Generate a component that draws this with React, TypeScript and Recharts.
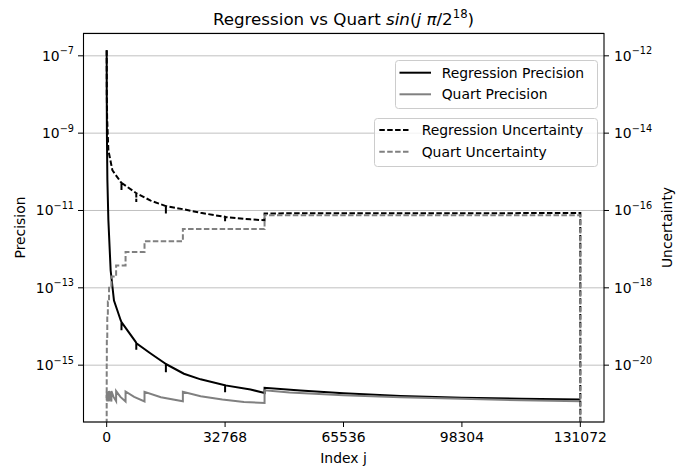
import { LineChart, Line, XAxis, YAxis, CartesianGrid } from "recharts"

const FONT = "DejaVu Sans, sans-serif"

// axis ticks
const xTicks = [0, 32768, 65536, 98304, 131072]
const precTicks = [1e-15, 1e-13, 1e-11, 1e-9, 1e-7]
const uncTicks = [1e-20, 1e-18, 1e-16, 1e-14, 1e-12]

// Regression Precision (left axis)
const regPrecJ = [0, 20, 60, 190, 470, 1100, 2020, 2960, 3870, 4095, 4096, 4097, 8020, 8191, 8192, 8193, 12166, 16383, 16384, 16385, 21370, 25990, 32767, 32768, 32769, 39800, 43690, 43691, 53600, 65536, 81300, 98304, 114688, 131072]
const regPrecV = [1.4e-7, 1e-8, 1e-9, 6.3e-11, 5.6e-12, 2.8e-13, 4.7e-14, 2.6e-14, 1.45e-14, 1.3e-14, 8e-15, 1.3e-14, 4e-15, 3.7e-15, 2.5e-15, 3.7e-15, 2e-15, 1.07e-15, 6.6e-16, 1.07e-15, 6e-16, 4.3e-16, 3e-16, 2e-16, 3e-16, 2.35e-16, 1.9e-16, 2.6e-16, 2.2e-16, 1.88e-16, 1.6e-16, 1.43e-16, 1.35e-16, 1.3e-16]

// Quart Precision (left axis)
const quartPrecJ = [0, 40, 160, 161, 326, 327, 652, 653, 1304, 1305, 1900, 2610, 2611, 3800, 5223, 5224, 7600, 10469, 10470, 15000, 21084, 21085, 26000, 32000, 38000, 43690, 43691, 50600, 65536, 81300, 98304, 114688, 131072]
const quartPrecV = [1.41e-16, 2.09e-16, 1.15e-16, 2e-16, 1.17e-16, 2.09e-16, 1.15e-16, 2.14e-16, 1.15e-16, 2.14e-16, 1.51e-16, 1.17e-16, 2.14e-16, 1.51e-16, 1.15e-16, 2.09e-16, 1.51e-16, 1.15e-16, 2.04e-16, 1.48e-16, 1.17e-16, 2.04e-16, 1.58e-16, 1.29e-16, 1.12e-16, 1.05e-16, 2.24e-16, 1.95e-16, 1.66e-16, 1.48e-16, 1.35e-16, 1.24e-16, 1.17e-16]

// Regression Uncertainty (right axis)
const regUncJ = [0, 30, 120, 280, 470, 1576, 3800, 4095, 4096, 4097, 8191, 8192, 8193, 12166, 16383, 16384, 16385, 21370, 25990, 32767, 32768, 32769, 39800, 43690, 43691, 65536, 98304, 131071, 131072]
const regUncV = [1.4e-12, 1e-13, 2.5e-14, 1e-14, 3.6e-15, 1.1e-15, 5.6e-16, 5.2e-16, 3.4e-16, 5.2e-16, 2.8e-16, 1.66e-16, 2.8e-16, 1.8e-16, 1.3e-16, 8.3e-17, 1.3e-16, 1.07e-16, 8.7e-17, 6.8e-17, 5.1e-17, 6.8e-17, 5.9e-17, 5.6e-17, 8.4e-17, 8.5e-17, 8.5e-17, 8.6e-17, 1e-25]

// Quart Uncertainty (right axis, steps)
const quartUncJ = [0, 1, 8, 41, 163, 326, 652, 1305, 2611, 5224, 10470, 21085, 43691, 131072]
const quartUncV = [1e-25, 1.6e-21, 1.2e-20, 5e-20, 2e-19, 4.4e-19, 1e-18, 1.95e-18, 3.8e-18, 8.5e-18, 1.6e-17, 3.3e-17, 7.5e-17, 1e-25]

const rows = (js: number[], vs: number[]) => js.map((j, i) => ({ j, v: vs[i] }))

const regPrec = rows(regPrecJ, regPrecV)
const quartPrec = rows(quartPrecJ, quartPrecV)
const regUnc = rows(regUncJ, regUncV)
const quartUnc = rows(quartUncJ, quartUncV)

// "10^-n" tick label
function PowTick(props: any) {
  const { x, y, payload, textAnchor } = props
  const e = Math.round(Math.log10(payload.value))
  return (
    <text x={x} y={y + 5} textAnchor={textAnchor} fontSize={13.9} fill="#000" fontFamily={FONT}>
      10<tspan dy={-6.5} fontSize={9.7}>{`\u2212${-e}`}</tspan>
    </text>
  )
}

export default function App() {
  return (
    <div style={{ position: "absolute", left: 0, top: 0, width: 676, height: 470, background: "#fff" }}>
      <LineChart width={676} height={470} data={regPrec} margin={{ top: 33, right: 0, bottom: 0, left: 0 }}>
        <CartesianGrid yAxisId="left" vertical={false} stroke="#b0b0b0" strokeWidth={0.8} />
        <XAxis
          dataKey="j"
          type="number"
          domain={[-6554, 137626]}
          ticks={xTicks}
          allowDataOverflow
          height={48}
          axisLine={false}
          tickSize={5}
          tickMargin={5}
          tickLine={{ stroke: "#000" }}
          tick={{ fontSize: 13.9, fill: "#000", fontFamily: FONT }}
          interval={0}
        />
        <YAxis
          yAxisId="left"
          scale="log"
          domain={[3.39e-17, 3.89e-7]}
          allowDataOverflow
          ticks={precTicks}
          width={83}
          axisLine={false}
          tickSize={5}
          tickMargin={4}
          tickLine={{ stroke: "#000" }}
          tick={<PowTick />}
          interval={0}
        />
        <YAxis
          yAxisId="right"
          orientation="right"
          scale="log"
          domain={[3.39e-22, 3.89e-12]}
          allowDataOverflow
          ticks={uncTicks}
          width={72}
          axisLine={false}
          tickSize={5}
          tickMargin={5}
          tickLine={{ stroke: "#000" }}
          tick={<PowTick />}
          interval={0}
        />
        <Line yAxisId="left" data={regPrec} dataKey="v" type="linear" stroke="#000" strokeWidth={2} dot={false} isAnimationActive={false} />
        <Line yAxisId="left" data={quartPrec} dataKey="v" type="linear" stroke="#808080" strokeWidth={2} dot={false} isAnimationActive={false} />
        <Line yAxisId="right" data={regUnc} dataKey="v" type="linear" stroke="#000" strokeWidth={2} strokeDasharray="5.5 2.4" dot={false} isAnimationActive={false} />
        <Line yAxisId="right" data={quartUnc} dataKey="v" type="stepAfter" stroke="#808080" strokeWidth={2} strokeDasharray="5.5 2.4" dot={false} isAnimationActive={false} />
      </LineChart>

      <svg width={676} height={470} style={{ position: "absolute", left: 0, top: 0, pointerEvents: "none" }} fontFamily={FONT}>
        {/* frame */}
        <rect x={83.5} y={33.5} width={520.5} height={388.5} fill="none" stroke="#000" strokeWidth={1.1} />

        {/* title */}
        <text x={343.5} y={24.5} textAnchor="middle" fontSize={16.7} fill="#000">
          Regression vs Quart <tspan fontStyle="italic">sin</tspan>(<tspan fontStyle="italic">j</tspan> <tspan fontStyle="italic">π</tspan>/2<tspan dy={-7} fontSize={11.7}>18</tspan><tspan dy={7}>)</tspan>
        </text>

        {/* axis labels */}
        <text x={343.5} y={462.5} textAnchor="middle" fontSize={13.9} fill="#000">Index j</text>
        <text x={24.5} y={227.5} textAnchor="middle" fontSize={13.9} fill="#000" transform="rotate(-90 24.5 227.5)">Precision</text>
        <text x={671.5} y={227.5} textAnchor="middle" fontSize={13.9} fill="#000" transform="rotate(-90 671.5 227.5)">Uncertainty</text>

        {/* legend: precision */}
        <rect x={395.5} y={60.5} width={202} height={48} rx={3} fill="#fff" fillOpacity={0.8} stroke="#cccccc" />
        <line x1={399.5} x2={431} y1={72.7} y2={72.7} stroke="#000" strokeWidth={2} />
        <text x={441.7} y={77.7} fontSize={13.9} fill="#000">Regression Precision</text>
        <line x1={399.5} x2={431} y1={94.3} y2={94.3} stroke="#808080" strokeWidth={2} />
        <text x={441.7} y={99.3} fontSize={13.9} fill="#000">Quart Precision</text>

        {/* legend: uncertainty */}
        <rect x={374.5} y={118.5} width={223} height={48} rx={3} fill="#fff" fillOpacity={0.8} stroke="#cccccc" />
        <line x1={379.3} x2={410.5} y1={130} y2={130} stroke="#000" strokeWidth={2} strokeDasharray="5.5 2.4" />
        <text x={421.7} y={135} fontSize={13.9} fill="#000">Regression Uncertainty</text>
        <line x1={379.3} x2={410.5} y1={151.7} y2={151.7} stroke="#808080" strokeWidth={2} strokeDasharray="5.5 2.4" />
        <text x={421.7} y={156.7} fontSize={13.9} fill="#000">Quart Uncertainty</text>
      </svg>
    </div>
  )
}
